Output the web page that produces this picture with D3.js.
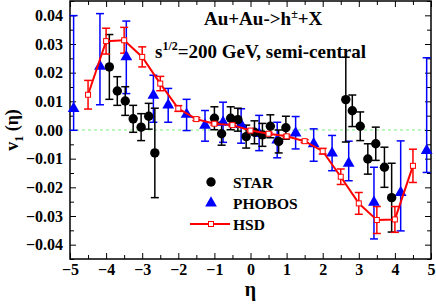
<!DOCTYPE html>
<html>
<head>
<meta charset="utf-8">
<script src="https://cdn.jsdelivr.net/npm/d3@7"></script>
<style>
  body { margin: 0; background: #fff; }
  text { font-family: "Liberation Serif", "Times New Roman", serif; font-weight: bold; }
</style>
</head>
<body>
<div id="chart"></div>
<script>
// HSD model
const hsdEta = [-4.5, -4, -3.5, -3, -2.5, -2, -1.5, -1, -0.5, 0, 0.5, 1, 1.5, 2, 2.5, 3, 3.5, 4, 4.5];
const hsdV = [0.0123, 0.0310, 0.0313, 0.0255, 0.0162, 0.0075, 0.0038, 0.0022, 0.0017, -0.0002, -0.0013, -0.0022, -0.0039, -0.0074, -0.0163, -0.0256, -0.0314, -0.0312, -0.0125];
const hsdErr = [0.005, 0.0045, 0.0045, 0.0035, 0.0025, 0.001, 0.0005, 0.0005, 0.0005, 0.0005, 0.0005, 0.0005, 0.0005, 0.001, 0.0027, 0.0038, 0.0047, 0.0045, 0.0058];

// STAR
const starEta = [-3.91, -3.69, -3.47, -3.25, -3.03, -2.82, -2.65, -1.0, -0.8, -0.55, -0.35, -0.12, 0.11, 0.33, 0.55, 0.78, 0.98, 2.64, 2.82, 3.04, 3.25, 3.47, 3.71, 3.91];
const starV = [0.022, 0.0136, 0.0101, 0.0039, 0.001, 0.0048, -0.008, 0.0041, -0.0013, 0.0041, 0.0036, -0.0023, -0.0008, -0.0017, 0.0013, -0.004, 0.0008, 0.0106, 0.0067, 0.0013, -0.0101, -0.0048, -0.013, -0.0236];
const starErr = [0.0113, 0.005, 0.005, 0.0047, 0.0047, 0.0045, 0.0156, 0.004, 0.004, 0.004, 0.004, 0.004, 0.004, 0.004, 0.004, 0.004, 0.004, 0.0148, 0.0055, 0.005, 0.0053, 0.0058, 0.007, 0.012];

// PHOBOS (asymmetric errors)
const phobosEta = [-4.9, -4.17, -3.44, -2.69, -2.28, -1.77, -1.26, -0.76, -0.26, 0.24, 0.74, 1.25, 1.75, 2.26, 2.72, 3.42, 4.16, 4.88];
const phobosV = [0.0075, 0.0222, 0.0255, 0.0121, 0.0087, 0.0055, 0.0016, 0.0027, 0.0019, -0.0013, -0.0035, -0.0011, -0.0048, -0.0081, -0.0116, -0.0252, -0.0218, -0.0072];
const phobosUp = [0.0324, 0.0184, 0.0125, 0.0070, 0.0058, 0.0052, 0.0052, 0.0070, 0.0055, 0.0064, 0.0062, 0.0058, 0.0052, 0.0062, 0.0077, 0.0122, 0.0180, 0.0324];
const phobosDown = [0.0076, 0.0134, 0.0128, 0.0094, 0.0060, 0.0057, 0.0055, 0.0070, 0.0065, 0.0059, 0.0062, 0.0055, 0.0061, 0.0061, 0.0061, 0.0128, 0.0134, 0.0076];

const xTicks = [-5, -4, -3, -2, -1, 0, 1, 2, 3, 4, 5];
const yTicks = [-0.04, -0.03, -0.02, -0.01, 0, 0.01, 0.02, 0.03, 0.04];

const W = 436, H = 306;
const margin = { top: 1, right: 5, bottom: 47, left: 70 };
const width = W - margin.left - margin.right;
const height = H - margin.top - margin.bottom;

const svg = d3.select('#chart')
    .append('svg')
    .attr('width', W)
    .attr('height', H)
    .append('g')
    .attr('transform', `translate(${margin.left},${margin.top})`);

const x = d3.scaleLinear().domain([-5, 5]).range([0, width]);
const y = d3.scaleLinear().domain([-0.045, 0.045]).range([height, 0]);

// zero line
svg.append('line')
    .attr('x1', 0).attr('x2', width)
    .attr('y1', y(0)).attr('y2', y(0))
    .attr('stroke', '#7cf07c')
    .attr('stroke-width', 1.2)
    .attr('stroke-dasharray', '3,3');

// axes with inward ticks
const minorX = d3.range(-4.5, 5, 1);
const minorY = d3.range(-0.045, 0.046, 0.01);

function tickAxis(axisFn, scale, values, size) {
    return axisFn(scale).tickValues(values).tickSize(-size).tickFormat('');
}

svg.append('g').attr('transform', `translate(0,${height})`)
    .call(d3.axisBottom(x).tickValues(xTicks).tickSize(-6).tickPadding(5).tickFormat(d3.format('d')))
    .call(g => g.selectAll('text').style('font-size', '16px').attr('fill', '#000'));
svg.append('g').attr('transform', `translate(0,${height})`).call(tickAxis(d3.axisBottom, x, minorX, 4));
svg.append('g').call(tickAxis(d3.axisTop, x, xTicks, 6));
svg.append('g').call(tickAxis(d3.axisTop, x, minorX, 4));

svg.append('g')
    .call(d3.axisLeft(y).tickValues(yTicks).tickSize(-6).tickPadding(7).tickFormat(d3.format('.2f')))
    .call(g => g.selectAll('text').style('font-size', '16px').attr('fill', '#000'));
svg.append('g').call(tickAxis(d3.axisLeft, y, minorY, 4));
svg.append('g').attr('transform', `translate(${width},0)`).call(tickAxis(d3.axisRight, y, yTicks, 6));
svg.append('g').attr('transform', `translate(${width},0)`).call(tickAxis(d3.axisRight, y, minorY, 4));

svg.selectAll('.domain').remove();
svg.selectAll('.tick line').attr('stroke', '#000').attr('stroke-width', 1);

svg.append('rect')
    .attr('width', width).attr('height', height)
    .attr('fill', 'none').attr('stroke', '#000').attr('stroke-width', 1.5);

// error bar helper
function errorBars(cls, xs, ys, up, down, color) {
    const g = svg.append('g').attr('class', cls);
    const data = xs.map((d, i) => ({ x: d, y: ys[i], hi: ys[i] + up[i], lo: ys[i] - down[i] }));
    const cap = 4;
    g.selectAll('.v').data(data).enter().append('line')
        .attr('x1', d => x(d.x)).attr('x2', d => x(d.x))
        .attr('y1', d => y(d.hi)).attr('y2', d => y(d.lo));
    g.selectAll('.t').data(data).enter().append('line')
        .attr('x1', d => x(d.x) - cap).attr('x2', d => x(d.x) + cap)
        .attr('y1', d => y(d.hi)).attr('y2', d => y(d.hi));
    g.selectAll('.b').data(data).enter().append('line')
        .attr('x1', d => x(d.x) - cap).attr('x2', d => x(d.x) + cap)
        .attr('y1', d => y(d.lo)).attr('y2', d => y(d.lo));
    g.selectAll('line').attr('stroke', color).attr('stroke-width', 1.5);
}

errorBars('phobos-err', phobosEta, phobosV, phobosUp, phobosDown, '#0000ff');
errorBars('star-err', starEta, starV, starErr, starErr, '#000');
errorBars('hsd-err', hsdEta, hsdV, hsdErr, hsdErr, '#ff0000');

const tri = d3.symbol().type(d3.symbolTriangle).size(60);

svg.selectAll('.phobos')
    .data(phobosEta)
    .enter()
    .append('path')
    .attr('class', 'phobos')
    .attr('d', tri)
    .attr('transform', (d, i) => `translate(${x(d)},${y(phobosV[i])})`)
    .attr('fill', '#0000ff');

svg.selectAll('.star')
    .data(starEta)
    .enter()
    .append('circle')
    .attr('class', 'star')
    .attr('cx', d => x(d))
    .attr('cy', (d, i) => y(starV[i]))
    .attr('r', 4.7)
    .attr('fill', '#000');

const line = d3.line().x(d => x(d[0])).y(d => y(d[1]));
svg.append('path')
    .datum(hsdEta.map((d, i) => [d, hsdV[i]]))
    .attr('d', line)
    .attr('fill', 'none')
    .attr('stroke', '#ff0000')
    .attr('stroke-width', 2);

svg.selectAll('.hsd')
    .data(hsdEta)
    .enter()
    .append('rect')
    .attr('class', 'hsd')
    .attr('x', d => x(d) - 2.5)
    .attr('y', (d, i) => y(hsdV[i]) - 2.5)
    .attr('width', 5)
    .attr('height', 5)
    .attr('fill', '#fff')
    .attr('stroke', '#ff0000')
    .attr('stroke-width', 1);

// annotation
const t1 = svg.append('text')
    .attr('x', 204 - margin.left).attr('y', 25 - margin.top)
    .style('font-size', '19px');
t1.append('tspan').text('Au+Au->h');
t1.append('tspan').attr('dy', -7).style('font-size', '12px').text('±');
t1.append('tspan').attr('dy', 7).text('+X');

const t2 = svg.append('text')
    .attr('x', 155 - margin.left).attr('y', 58 - margin.top)
    .style('font-size', '19px');
t2.append('tspan').text('s');
t2.append('tspan').attr('dy', -8).style('font-size', '12px').text('1/2');
t2.append('tspan').attr('dy', 8).text('=200 GeV, semi-central');

// legend
const legend = svg.append('g');
const lx = 211 - margin.left;
legend.append('circle').attr('cx', lx).attr('cy', 182 - margin.top).attr('r', 4.7).attr('fill', '#000');
legend.append('path').attr('d', tri).attr('transform', `translate(${lx},${203 - margin.top})`).attr('fill', '#0000ff');
legend.append('line')
    .attr('x1', lx - 21).attr('x2', lx + 19)
    .attr('y1', 224 - margin.top).attr('y2', 224 - margin.top)
    .attr('stroke', '#ff0000').attr('stroke-width', 2);
legend.append('rect')
    .attr('x', lx - 2.5).attr('y', 224 - margin.top - 2.5)
    .attr('width', 5).attr('height', 5)
    .attr('fill', '#fff').attr('stroke', '#ff0000');
const legendLabels = ['STAR', 'PHOBOS', 'HSD'];
legend.selectAll('.lt')
    .data(legendLabels)
    .enter()
    .append('text')
    .attr('x', 233 - margin.left)
    .attr('y', (d, i) => 188 - margin.top + i * 21)
    .style('font-size', '15.5px')
    .text(d => d);

// axis titles
svg.append('text')
    .attr('x', x(0))
    .attr('y', height + 37)
    .attr('text-anchor', 'middle')
    .style('font-size', '20px')
    .text('η');

const yl = svg.append('text')
    .attr('transform', 'rotate(-90)')
    .attr('x', -y(0))
    .attr('y', -52)
    .attr('text-anchor', 'middle')
    .style('font-size', '18px');
yl.append('tspan').text('v');
yl.append('tspan').attr('dy', 5).style('font-size', '12px').text('1');
yl.append('tspan').attr('dy', -5).text(' (η)');
</script>
</body>
</html>
